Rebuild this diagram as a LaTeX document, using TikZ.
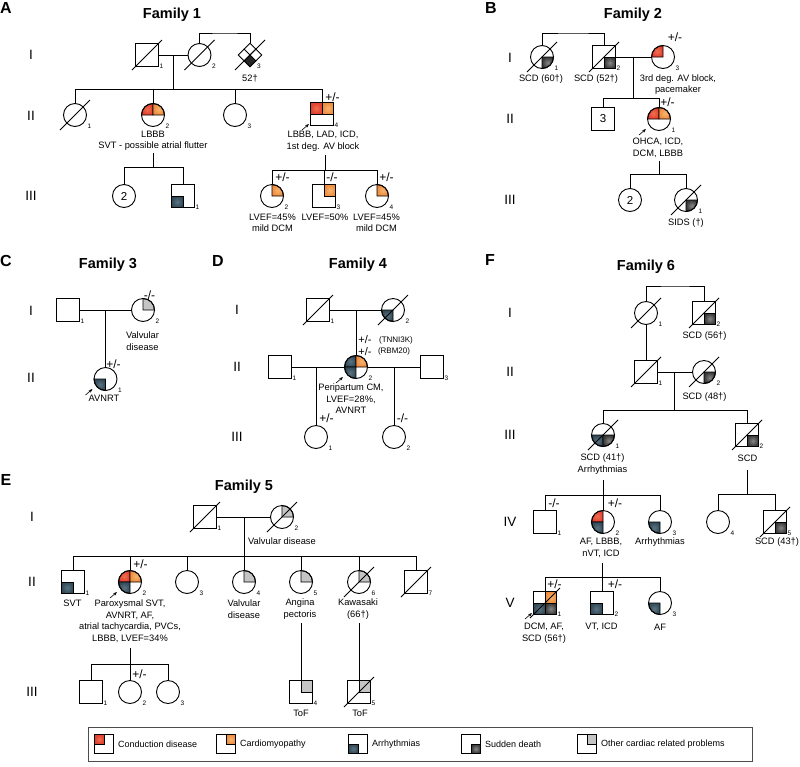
\documentclass[tikz,border=0pt]{standalone}
\usepackage{fontspec}
\setmainfont{Liberation Sans}
\usetikzlibrary{arrows.meta,backgrounds,shapes.geometric,calc}

\definecolor{condc}{RGB}{226,62,48}
\definecolor{condl}{RGB}{238,112,78}
\definecolor{cmpc}{RGB}{238,140,62}
\definecolor{cmpl}{RGB}{246,180,112}
\definecolor{arrc}{RGB}{50,74,88}
\definecolor{arrl}{RGB}{92,116,130}
\definecolor{scdc}{RGB}{55,55,55}
\definecolor{scdl}{RGB}{135,135,135}
\definecolor{othc}{RGB}{196,196,196}

\tikzset{
  qcond/.style={inner color=condl, outer color=condc},
  qcmp/.style={inner color=cmpl, outer color=cmpc},
  qarr/.style={inner color=arrl, outer color=arrc},
  qscd/.style={inner color=scdl, outer color=scdc},
  qoth/.style={fill=othc}
}

% quadrant of a circle (start angle: 0 upper right, 90 upper left, 180 lower left, 270 lower right)
\newcommand{\quadc}[3]{%
  \begin{pgfonlayer}{background}
    \path[draw, line width=0.9pt, #3] (#1.center) -- ++(#2:11.5pt)
      arc[start angle=#2, delta angle=90, radius=11.5pt] -- cycle;
  \end{pgfonlayer}}
% quadrant of a square (corner anchor)
\newcommand{\quads}[3]{%
  \begin{pgfonlayer}{background}
    \path[draw, line width=0.9pt, #3] (#1.center) rectangle (#1.#2);
  \end{pgfonlayer}}
\newcommand{\deceased}[1]{\draw[line width=0.9pt] ([shift={(-15pt,-15pt)}]#1.center) -- ([shift={(15pt,15pt)}]#1.center);}
\newcommand{\pnum}[2]{\node[idx] (#1n) at ([shift={(14.5pt,-11.5pt)}]#1.center) {#2};}
\newcommand{\proband}[1]{\draw[-{Stealth[length=4pt,width=3pt]}, line width=0.6pt] ([shift={(-20pt,-16pt)}]#1.center) -- ([shift={(-13pt,-10pt)}]#1.center);}

\begin{document}
\begin{tikzpicture}[x=1pt, y=-1pt,
    male/.style={rectangle, draw, line width=0.9pt, minimum size=23pt, inner sep=0pt, outer sep=0pt, font=\fontsize{11.5}{12}\selectfont},
    female/.style={circle, draw, line width=0.9pt, minimum size=23pt, inner sep=0pt, font=\fontsize{11.5}{12}\selectfont},
    unk/.style={diamond, draw, line width=0.9pt, minimum width=24pt, minimum height=24pt, inner sep=0pt},
    legsq/.style={rectangle, draw, line width=0.8pt, minimum size=19pt, inner sep=0pt, outer sep=0pt},
    link/.style={line width=1pt},
    idx/.style={font=\fontsize{6.5}{7}\selectfont, inner sep=0pt},
    gt/.style={font=\fontsize{12}{12}\selectfont, inner sep=0pt},
    lbl/.style={font=\fontsize{9.3}{11.5}\selectfont, align=center, inner sep=0pt},
    gen/.style={font=\fontsize{13.5}{14}\selectfont, inner sep=0pt},
    ftitle/.style={font=\fontsize{14.5}{15}\selectfont\bfseries, inner sep=0pt},
    panel/.style={font=\fontsize{16}{17}\selectfont\bfseries, inner sep=0pt},
    legtxt/.style={font=\fontsize{9}{10}\selectfont, anchor=west, inner sep=0pt}
  ]
\useasboundingbox (0,0) rectangle (800,766);

% Family 1
\node[panel] (pa) at (6,8) {A};
\node[ftitle] (ta) at (172,15) {Family 1};
\node[gen] (ga1) at (31,55) {I};
\node[gen] (ga2) at (31,116) {II};
\node[gen] (ga3) at (31,196) {III};
\node[male] (a11) at (147,55) {};
\node[female] (a12) at (199.5,55) {};
\node[unk] (a13) at (250,55) {};
\node[female] (a21) at (75,115) {};
\node[female] (a22) at (153,115) {};
\node[female] (a23) at (235,115) {};
\node[male] (a24) at (322,114) {};
\node[female] (a3x) at (124,196) {2};
\node[male] (a31) at (183,196) {};
\node[female] (a32) at (272,196) {};
\node[male] (a33) at (324,196) {};
\node[female] (a34) at (377,196) {};
\quadc{a22}{90}{qcond} \quadc{a22}{0}{qcmp}
\quads{a24}{north west}{qcond} \quads{a24}{north east}{qcmp}
\quads{a31}{south west}{qarr}
\quadc{a32}{0}{qcmp} \quads{a33}{north east}{qcmp} \quadc{a34}{0}{qcmp}
\begin{pgfonlayer}{background}
  \fill[black!85] (a13.center) -- ($(a13.west)!0.5!(a13.south)$) -- (a13.south) -- ($(a13.south)!0.5!(a13.east)$) -- cycle;
\end{pgfonlayer}
\draw[line width=0.9pt] ($(a13.north)!0.5!(a13.west)$) -- ($(a13.south)!0.5!(a13.east)$)
  ($(a13.north)!0.5!(a13.east)$) -- ($(a13.south)!0.5!(a13.west)$);
\deceased{a11} \deceased{a12} \deceased{a13} \deceased{a21}
\pnum{a11}{1} \pnum{a12}{2} \pnum{a21}{1} \pnum{a22}{2} \pnum{a23}{3} \pnum{a24}{4}
\pnum{a31}{1} \pnum{a32}{2} \pnum{a33}{3} \pnum{a34}{4}
\node[idx] (a13n) at (259,66) {3};
\node[gt] (a24g) at (332.5,97) {+/-};
\node[gt] (a32g) at (282.5,177) {+/-};
\node[gt] (a33g) at (332,177) {-/-};
\node[gt] (a34g) at (386.5,177) {+/-};
\proband{a24}
\coordinate (at) at (225,33);
\coordinate (am) at (173,55);
\coordinate (as) at (173,89);
\coordinate (a2d) at (153,153);
\coordinate (a2s) at (153,167);
\coordinate (a4d) at (325,155);
\coordinate (a4s) at (325,170);
\draw[link] (a12) |- (at) -| (a13);
\draw[link] (a11) -- (a12);
\draw[link] (am) -- (as);
\draw[link] (as) -| (a21);
\draw[link] (as) -| (a22);
\draw[link] (as) -| (a23);
\draw[link] (as) -| (a24);
\draw[link] (a2d) -- (a2s);
\draw[link] (a2s) -| (a3x);
\draw[link] (a2s) -| (a31);
\draw[link] (a4d) -- (a4s);
\draw[link] (a4s) -| (a32);
\draw[link] (a4s) -| (a33);
\draw[link] (a4s) -| (a34);
\node[lbl] (a13l) at (250,78) {52†};
\node[lbl] (a22l) at (153,141) {LBBB\\SVT - possible atrial flutter};
\node[lbl] (a24l) at (323,141) {LBBB, LAD, ICD,\\1st deg. AV block};
\node[lbl] (a32l) at (272.5,223) {LVEF=45\%\\mild DCM};
\node[lbl] (a33l) at (325,217) {LVEF=50\%};
\node[lbl] (a34l) at (376.5,223) {LVEF=45\%\\mild DCM};

% Family 2
\node[panel] (pb) at (491,8) {B};
\node[ftitle] (tb) at (633,15) {Family 2};
\node[gen] (gb1) at (510,58) {I};
\node[gen] (gb2) at (510,119) {II};
\node[gen] (gb3) at (510,200) {III};
\node[female] (b11) at (542,57) {};
\node[male] (b12) at (604,57) {};
\node[female] (b13) at (663,57) {};
\node[male] (b2x) at (603,119) {3};
\node[female] (b21) at (659,119) {};
\node[female] (b3x) at (630,200) {2};
\node[female] (b31) at (686,200) {};
\quadc{b11}{270}{qscd} \quads{b12}{south east}{qscd} \quadc{b13}{90}{qcond}
\quadc{b21}{90}{qcond} \quadc{b21}{0}{qcmp} \quadc{b31}{270}{qscd}
\deceased{b11} \deceased{b12} \deceased{b31}
\pnum{b11}{1} \pnum{b12}{2} \pnum{b13}{3} \pnum{b21}{1} \pnum{b31}{1}
\node[gt] (b13g) at (675,37) {+/-};
\node[gt] (b21g) at (667.5,102) {+/-};
\proband{b21}
\coordinate (bt) at (573,33);
\coordinate (bm) at (633,57);
\coordinate (bs) at (633,98);
\coordinate (b2d) at (659,161);
\coordinate (b2s) at (659,174);
\draw[link] (b11) |- (bt) -| (b12);
\draw[link] (b12) -- (b13);
\draw[link] (bm) -- (bs);
\draw[link] (bs) -| (b2x);
\draw[link] (bs) -| (b21);
\draw[link] (b2d) -- (b2s);
\draw[link] (b2s) -| (b3x);
\draw[link] (b2s) -| (b31);
\node[lbl] (b11l) at (541,79) {SCD (60†)};
\node[lbl] (b12l) at (596,79) {SCD (52†)};
\node[lbl] (b13l) at (678,84.5) {3rd deg. AV block,\\pacemaker};
\node[lbl] (b21l) at (658,148) {OHCA, ICD,\\DCM, LBBB};
\node[lbl] (b31l) at (686,223) {SIDS (†)};

% Family 3
\node[panel] (pc) at (6,261) {C};
\node[ftitle] (tc) at (108,265) {Family 3};
\node[gen] (gc1) at (31,311) {I};
\node[gen] (gc2) at (31,378) {II};
\node[male] (c11) at (68,310) {};
\node[female] (c12) at (143,310) {};
\node[female] (c21) at (105.5,379) {};
\quadc{c12}{0}{qoth} \quadc{c21}{180}{qarr}
\pnum{c11}{1} \pnum{c12}{2} \pnum{c21}{1}
\node[gt] (c12g) at (149.5,295) {-/-};
\node[gt] (c21g) at (113.5,364) {+/-};
\proband{c21}
\coordinate (cm) at (105.5,310);
\draw[link] (c11) -- (c12);
\draw[link] (cm) -- (c21);
\node[lbl] (c12l) at (142.5,341) {Valvular\\disease};
\node[lbl] (c21l) at (104,398) {AVNRT};

% Family 4
\node[panel] (pd) at (218,261) {D};
\node[ftitle] (td) at (358,265) {Family 4};
\node[gen] (gd1) at (237,310) {I};
\node[gen] (gd2) at (237,367) {II};
\node[gen] (gd3) at (237,437) {III};
\node[male] (d11) at (318,310) {};
\node[female] (d12) at (393,310) {};
\node[male] (d21) at (280,367) {};
\node[female] (d22) at (356,367) {};
\node[male] (d23) at (432,367) {};
\node[female] (d31) at (316,437) {};
\node[female] (d32) at (394,437) {};
\quadc{d12}{180}{qarr}
\quadc{d22}{90}{qarr} \quadc{d22}{0}{qcmp} \quadc{d22}{180}{qarr}
\deceased{d11} \deceased{d12}
\pnum{d11}{1} \pnum{d12}{2} \pnum{d21}{1} \pnum{d22}{2} \pnum{d23}{3} \pnum{d31}{1} \pnum{d32}{2}
\node[gt, font=\fontsize{11}{11}\selectfont] (d22g) at (365,340) {+/-};
\node[gt, font=\fontsize{11}{11}\selectfont] (d22h) at (365,351.5) {+/-};
\node[lbl, font=\fontsize{8}{9}\selectfont] (d22a) at (396,340) {(TNNI3K)};
\node[lbl, font=\fontsize{8}{9}\selectfont] (d22b) at (394,351.5) {(RBM20)};
\node[gt] (d31g) at (326.5,418) {+/-};
\node[gt] (d32g) at (402.5,418) {-/-};
\proband{d22}
\coordinate (dm) at (356,310);
\coordinate (dm1) at (316,367);
\coordinate (dm2) at (394,367);
\draw[link] (d11) -- (d12);
\draw[link] (dm) -- (d22);
\draw[link] (d21) -- (d22);
\draw[link] (d22) -- (d23);
\draw[link] (dm1) -- (d31);
\draw[link] (dm2) -- (d32);
\node[lbl] (d22l) at (351,399) {Peripartum CM,\\LVEF=28\%,\\AVNRT};

% Family 5
\node[panel] (pe) at (6,480) {E};
\node[ftitle] (te) at (244,487) {Family 5};
\node[gen] (ge1) at (32,517) {I};
\node[gen] (ge2) at (32,582) {II};
\node[gen] (ge3) at (32,692) {III};
\node[male] (e11) at (205,517) {};
\node[female] (e12) at (282,517) {};
\node[male] (e21) at (73,582) {};
\node[female] (e22) at (130,582) {};
\node[female] (e23) at (187,582) {};
\node[female] (e24) at (244,582) {};
\node[female] (e25) at (301,582) {};
\node[female] (e26) at (359,582) {};
\node[male] (e27) at (416,582) {};
\node[male] (e31) at (91,692) {};
\node[female] (e32) at (130,692) {};
\node[female] (e33) at (168,692) {};
\node[male] (e34) at (301,692) {};
\node[male] (e35) at (359,692) {};
\quadc{e12}{0}{qoth}
\quads{e21}{south west}{qarr}
\quadc{e22}{90}{qcond} \quadc{e22}{0}{qcmp} \quadc{e22}{180}{qarr}
\quadc{e24}{0}{qoth} \quadc{e25}{0}{qoth} \quadc{e26}{0}{qoth}
\quads{e34}{north east}{qoth} \quads{e35}{north east}{qoth}
\deceased{e11} \deceased{e12} \deceased{e26} \deceased{e27} \deceased{e35}
\pnum{e11}{1} \pnum{e12}{2} \pnum{e21}{1} \pnum{e22}{2} \pnum{e23}{3} \pnum{e24}{4}
\pnum{e25}{5} \pnum{e26}{6} \pnum{e27}{7}
\pnum{e31}{1} \pnum{e32}{2} \pnum{e33}{3} \pnum{e34}{4} \pnum{e35}{5}
\node[gt] (e22g) at (140.5,564) {+/-};
\node[gt] (e32g) at (139.5,674) {+/-};
\proband{e22}
\coordinate (em) at (244,517);
\coordinate (es) at (244,556);
\coordinate (e2d) at (130,648);
\coordinate (e2s) at (130,664);
\coordinate (e5d) at (301,623);
\coordinate (e6d) at (359,623);
\draw[link] (e11) -- (e12);
\draw[link] (em) -- (es);
\draw[link] (es) -| (e21);
\draw[link] (es) -| (e22);
\draw[link] (es) -| (e23);
\draw[link] (es) -| (e24);
\draw[link] (es) -| (e25);
\draw[link] (es) -| (e26);
\draw[link] (es) -| (e27);
\draw[link] (e2d) -- (e2s);
\draw[link] (e2s) -| (e31);
\draw[link] (e2s) -| (e32);
\draw[link] (e2s) -| (e33);
\draw[link] (e5d) -- (e34);
\draw[link] (e6d) -- (e35);
\node[lbl] (e12l) at (282,541) {Valvular disease};
\node[lbl] (e21l) at (72.5,603) {SVT};
\node[lbl] (e22l) at (130,621) {Paroxysmal SVT,\\AVNRT, AF,\\atrial tachycardia, PVCs,\\LBBB, LVEF=34\%};
\node[lbl] (e24l) at (244,609) {Valvular\\disease};
\node[lbl] (e25l) at (300,609) {Angina\\pectoris};
\node[lbl] (e26l) at (358,609) {Kawasaki\\(66†)};
\node[lbl] (e34l) at (301,713) {ToF};
\node[lbl] (e35l) at (360,713) {ToF};

% Family 6
\node[panel] (pf) at (490,260) {F};
\node[ftitle] (tf) at (646,267) {Family 6};
\node[gen] (gf1) at (510,313) {I};
\node[gen] (gf2) at (510,372) {II};
\node[gen] (gf3) at (510,435) {III};
\node[gen] (gf4) at (510,522) {IV};
\node[gen] (gf5) at (510,603) {V};
\node[female] (f11) at (646,313) {};
\node[male] (f12) at (704,313) {};
\node[male] (f21) at (646,372) {};
\node[female] (f22) at (704,372) {};
\node[female] (f31) at (603,435) {};
\node[male] (f32) at (747,435) {};
\node[male] (f41) at (545,522) {};
\node[female] (f42) at (603,522) {};
\node[female] (f43) at (660,522) {};
\node[female] (f44) at (718,522) {};
\node[male] (f45) at (775,522) {};
\node[male] (f51) at (545,603) {};
\node[male] (f52) at (602,603) {};
\node[female] (f53) at (660,603) {};
\quads{f12}{south east}{qscd} \quadc{f22}{270}{qscd}
\quadc{f31}{180}{qarr} \quadc{f31}{270}{qscd} \quads{f32}{south east}{qscd}
\quadc{f42}{90}{qcond} \quadc{f42}{180}{qarr} \quadc{f43}{180}{qarr}
\quads{f45}{south east}{qscd}
\quads{f51}{north east}{qcmp} \quads{f51}{south west}{qarr} \quads{f51}{south east}{qscd}
\quads{f52}{south west}{qarr} \quadc{f53}{180}{qarr}
\deceased{f11} \deceased{f12} \deceased{f21} \deceased{f22} \deceased{f31} \deceased{f32}
\deceased{f45} \deceased{f51}
\pnum{f11}{1} \pnum{f12}{2} \pnum{f21}{1} \pnum{f22}{2} \pnum{f31}{1} \pnum{f32}{2}
\pnum{f41}{1} \pnum{f42}{2} \pnum{f43}{3} \pnum{f44}{4} \pnum{f45}{5}
\pnum{f51}{1} \pnum{f52}{2} \pnum{f53}{3}
\node[gt] (f41g) at (554,503) {-/-};
\node[gt] (f42g) at (615,503) {+/-};
\node[gt] (f51g) at (554.5,584) {+/-};
\node[gt] (f52g) at (615,584) {+/-};
\proband{f51}
\coordinate (ft) at (675,286);
\coordinate (fm) at (674,372);
\coordinate (fs) at (674,410);
\coordinate (f3d) at (603,480);
\coordinate (f3s) at (603,495);
\coordinate (f4d) at (747,470);
\coordinate (f4s) at (747,494);
\coordinate (f5d) at (602,563);
\coordinate (f5s) at (602,577);
\draw[link] (f11) |- (ft) -| (f12);
\draw[link] (f11) -- (f21);
\draw[link] (f21) -- (f22);
\draw[link] (fm) -- (fs);
\draw[link] (fs) -| (f31);
\draw[link] (fs) -| (f32);
\draw[link] (f3d) -- (f3s);
\draw[link] (f3s) -| (f41);
\draw[link] (f3s) -| (f42);
\draw[link] (f3s) -| (f43);
\draw[link] (f4d) -- (f4s);
\draw[link] (f4s) -| (f44);
\draw[link] (f4s) -| (f45);
\draw[link] (f5d) -- (f5s);
\draw[link] (f5s) -| (f51);
\draw[link] (f5s) -| (f52);
\draw[link] (f5s) -| (f53);
\node[lbl] (f12l) at (704.5,336) {SCD (56†)};
\node[lbl] (f22l) at (704.5,397) {SCD (48†)};
\node[lbl] (f31l) at (602.5,464) {SCD (41†)\\Arrhythmias};
\node[lbl] (f32l) at (747.5,458) {SCD};
\node[lbl] (f42l) at (601,548) {AF, LBBB,\\nVT, ICD};
\node[lbl] (f43l) at (660,542) {Arrhythmias};
\node[lbl] (f45l) at (777,542) {SCD (43†)};
\node[lbl] (f51l) at (544,633) {DCM, AF,\\SCD (56†)};
\node[lbl] (f52l) at (601.5,627) {VT, ICD};
\node[lbl] (f53l) at (660,627) {AF};

% Legend
\node[draw=black!70, line width=0.7pt, minimum width=664pt, minimum height=34pt, inner sep=0pt] (leg) at (420,744) {};
\node[legsq] (l1) at (104,744) {};
\node[legsq] (l2) at (226,744) {};
\node[legsq] (l3) at (358,744) {};
\node[legsq] (l4) at (471,744) {};
\node[legsq] (l5) at (587,744) {};
\quads{l1}{north west}{qcond} \quads{l2}{north east}{qcmp} \quads{l3}{south west}{qarr}
\quads{l4}{south east}{qscd} \quads{l5}{north east}{qoth}
\node[legtxt] (l1t) at (118,744) {Conduction disease};
\node[legtxt] (l2t) at (240,744) {Cardiomyopathy};
\node[legtxt] (l3t) at (372,744) {Arrhythmias};
\node[legtxt] (l4t) at (485,744) {Sudden death};
\node[legtxt] (l5t) at (601,744) {Other cardiac related problems};
\end{tikzpicture}
\end{document}
